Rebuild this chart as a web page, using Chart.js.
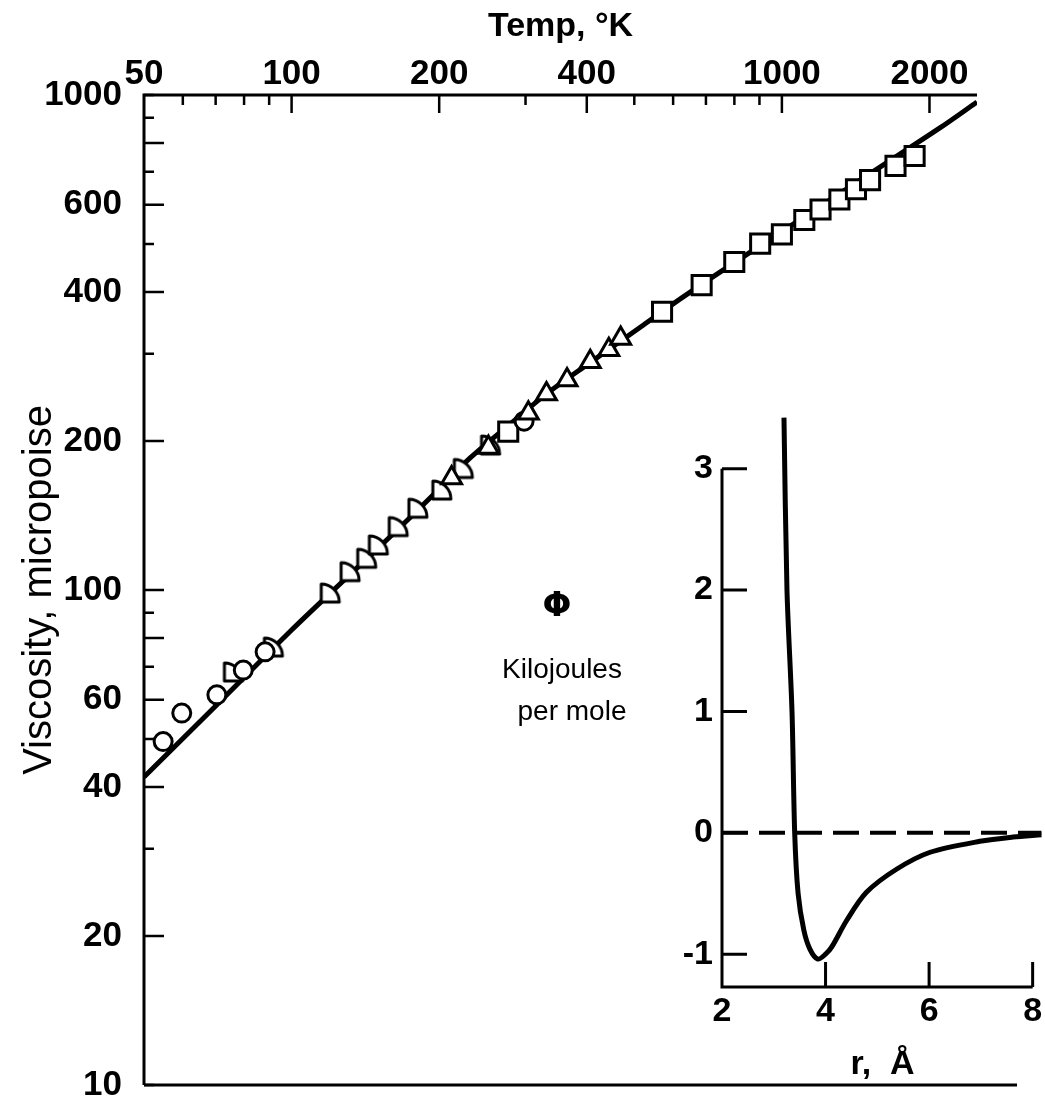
<!DOCTYPE html>
<html><head><meta charset="utf-8">
<script src="https://cdn.jsdelivr.net/npm/chart.js@4.4.1/dist/chart.umd.min.js"></script>
<style>
html,body{margin:0;padding:0;background:#fff;}
#wrap{position:relative;width:1045px;height:1106px;overflow:hidden;}
#wrap canvas{position:absolute;left:0;top:0;}
#inset{pointer-events:none;}
</style></head><body>
<div id="wrap"><canvas id="main" width="1045" height="1106"></canvas><canvas id="inset" width="1045" height="1106"></canvas></div>
<script>
// ---------- main plot data (Temp in K, viscosity in micropoise) ----------
const fitTemp = [50, 70, 100, 120, 160, 200, 231, 280, 331, 400, 522, 592, 736, 1000, 1500, 2100, 2500];
const fitVisc = [41.9, 58.3, 83, 98.6, 129, 160, 184.6, 217, 249, 285, 343, 375, 434, 530, 690, 858, 968];

const circleTemp = [54.7, 59.7, 70.4, 79.7, 88.3, 298];
const circleVisc = [49.4, 56.4, 61.4, 68.9, 75.0, 219.3];

const quarterTemp = [76.1, 91.8, 119.9, 131.6, 142.3, 150.3, 165, 181, 202.5, 224, 254.5];
const quarterVisc = [68.3, 76.7, 98.6, 108.9, 115.9, 123.3, 134.3, 146.3, 159.2, 176, 196.3];

const triangleTemp = [212, 252, 304, 331, 364.6, 406.6, 443.6, 469];
const triangleVisc = [168.3, 194, 227.6, 249, 265.5, 289, 305.6, 322];

const squareTemp = [276.6, 569.6, 686, 799.6, 903, 1000, 1111, 1199, 1310, 1416, 1513, 1705, 1865];
const squareVisc = [208.9, 364.8, 413, 460, 501, 523, 559, 587, 615, 645, 673, 719, 753];

// main axis ticks
const tempTicks = [50, 60, 70, 80, 90, 100, 200, 300, 400, 500, 600, 700, 800, 900, 1000, 2000];
const tempLongTicks = [100, 200, 400, 1000, 2000];
const tempLabels = [50, 100, 200, 400, 1000, 2000];
const viscTicks = [10, 20, 30, 40, 50, 60, 70, 80, 90, 100, 200, 300, 400, 500, 600, 700, 800, 900, 1000];
const viscLongTicks = [20, 40, 60, 80, 100, 200, 400, 600, 800];
const viscLabels = [10, 20, 40, 60, 100, 200, 400, 600, 1000];

// ---------- inset data (r in Angstrom, potential in kJ/mol) ----------
const rValues   = [3.197, 3.255, 3.352, 3.404, 3.47, 3.58, 3.70, 3.85, 4.00, 4.12, 4.41, 4.79, 5.37, 6.02, 6.98, 7.62, 8.17];
const phiValues = [3.42, 2.00, 1.00, 0.00, -0.50, -0.80, -0.96, -1.04, -1.00, -0.94, -0.72, -0.49, -0.30, -0.16, -0.07, -0.035, -0.016];
const zeroLineR = [2, 8.17];
const zeroLinePhi = [0, 0];
const rTicks = [2, 4, 6, 8];
const phiTicks = [-1, 0, 1, 2, 3];

// ---------- styling ----------
const SANS = "'Liberation Sans', Arial, sans-serif";
Chart.defaults.color = '#000';
Chart.defaults.font.family = SANS;
const tickFont = {family: SANS, size: 35, weight: 'bold'};
const insetTickFont = {family: SANS, size: 34, weight: 'bold'};

function pts(xs, ys){ return xs.map((v,i)=>({x:v, y:ys[i]})); }

function quarterMarker(){
  const c = document.createElement('canvas');
  c.width = 26; c.height = 26;
  const g = c.getContext('2d');
  g.lineWidth = 3; g.strokeStyle = '#000'; g.fillStyle = '#fff'; g.lineJoin = 'round';
  const x0 = 4, y0 = 22, R = 18;
  g.beginPath();
  g.moveTo(x0, y0); g.lineTo(x0, y0 - R);
  g.arc(x0, y0, R, -Math.PI/2, 0, false);
  g.closePath(); g.fill(); g.stroke();
  return c;
}

const mainAxes = {
  id: 'mainAxes',
  beforeDraw(chart){
    const {ctx, width, height} = chart;
    ctx.save(); ctx.fillStyle = '#fff'; ctx.fillRect(0, 0, width, height); ctx.restore();
  },
  afterDraw(chart){
    const {ctx, chartArea: a, scales: {x, y}} = chart;
    ctx.save();
    ctx.strokeStyle = '#000'; ctx.lineWidth = 3;
    ctx.beginPath();
    ctx.moveTo(a.left, a.bottom); ctx.lineTo(a.left, a.top); ctx.lineTo(a.right, a.top);
    ctx.moveTo(a.left, a.bottom); ctx.lineTo(a.right + 40, a.bottom);
    ctx.stroke();
    ctx.lineWidth = 2.5;
    ctx.beginPath();
    for (const v of tempTicks) {
      if (v === tempTicks[0]) continue;
      const px = x.getPixelForValue(v);
      const len = tempLongTicks.includes(v) ? 18 : 10;
      ctx.moveTo(px, a.top); ctx.lineTo(px, a.top + len);
    }
    for (const v of viscTicks) {
      const py = y.getPixelForValue(v);
      const len = viscLongTicks.includes(v) ? 20 : 10;
      ctx.moveTo(a.left, py); ctx.lineTo(a.left + len, py);
    }
    ctx.stroke();
    ctx.restore();
  }
};

new Chart(document.getElementById('main'), {
  type: 'scatter',
  data: {
    datasets: [
      {label: 'fit', data: pts(fitTemp, fitVisc), showLine: true, borderColor: '#000', borderWidth: 5,
       pointRadius: 0, tension: 0.3, fill: false, order: 10},
      {label: 'circles', data: pts(circleTemp, circleVisc), pointStyle: 'circle', pointRadius: 9,
       pointBorderWidth: 3, pointBorderColor: '#000', pointBackgroundColor: '#fff', order: 2},
      {label: 'quarters', data: pts(quarterTemp, quarterVisc), pointStyle: quarterMarker(), pointRadius: 11, order: 3},
      {label: 'triangles', data: pts(triangleTemp, triangleVisc), pointStyle: 'triangle', pointRadius: 11.5,
       pointBorderWidth: 3, pointBorderColor: '#000', pointBackgroundColor: '#fff', order: 1},
      {label: 'squares', data: pts(squareTemp, squareVisc), pointStyle: 'rect', pointRadius: 13.5,
       pointBorderWidth: 3, pointBorderColor: '#000', pointBackgroundColor: '#fff', order: 4}
    ]
  },
  options: {
    responsive: false, animation: false, events: [], devicePixelRatio: 1,
    layout: {padding: {left: 0, top: 0, right: 68, bottom: 21}},
    plugins: {legend: {display: false}, tooltip: {enabled: false}},
    scales: {
      x: {
        type: 'logarithmic', position: 'top', min: 50, max: 2500,
        afterBuildTicks: s => { s.ticks = tempTicks.map(v => ({value: v})); },
        afterFit: s => { s.height = 95; s.paddingLeft = 0; s.paddingRight = 0; },
        grid: {display: false, drawTicks: false}, border: {display: false},
        ticks: {autoSkip: false, maxRotation: 0, minRotation: 0, padding: 0, font: tickFont, color: '#000',
                callback: v => tempLabels.includes(v) ? String(v) : ''},
        title: {display: true, text: 'Temp, °K', color: '#000',
                font: {family: SANS, size: 34, weight: 'bold'},
                padding: {top: 6, bottom: 0}}
      },
      y: {
        type: 'logarithmic', position: 'left', min: 10, max: 1000,
        afterBuildTicks: s => { s.ticks = viscTicks.map(v => ({value: v})); },
        afterFit: s => { s.width = 144; s.paddingTop = 0; s.paddingBottom = 0; },
        grid: {display: false, drawTicks: false}, border: {display: false},
        ticks: {autoSkip: false, padding: 22, font: tickFont, color: '#000',
                callback: v => viscLabels.includes(v) ? String(v) : ''},
        title: {display: true, text: 'Viscosity, micropoise', color: '#000',
                font: {family: SANS, size: 40, weight: 'normal'},
                padding: {top: 16, bottom: 0}}
      }
    }
  },
  plugins: [mainAxes]
});

// ---------- inset ----------
const insetAxes = {
  id: 'insetAxes',
  afterDraw(chart){
    const {ctx, chartArea: a, scales: {x, y}} = chart;
    const xEnd = x.getPixelForValue(rTicks[rTicks.length - 1]);
    const yTop = y.getPixelForValue(phiTicks[phiTicks.length - 1]);
    ctx.save();
    ctx.strokeStyle = '#000'; ctx.lineWidth = 3;
    ctx.beginPath();
    ctx.moveTo(a.left, yTop); ctx.lineTo(a.left, a.bottom); ctx.lineTo(xEnd, a.bottom);
    ctx.stroke();
    ctx.beginPath();
    for (const v of phiTicks) {
      const py = y.getPixelForValue(v);
      ctx.moveTo(a.left, py); ctx.lineTo(a.left + 25, py);
    }
    for (const v of rTicks) {
      if (v === rTicks[0]) continue;
      const px = x.getPixelForValue(v);
      ctx.moveTo(px, a.bottom); ctx.lineTo(px, a.bottom - 25);
    }
    ctx.stroke();
    // inset y-axis title (unrotated text block)
    ctx.fillStyle = '#000';
    ctx.textAlign = 'center'; ctx.textBaseline = 'middle';
    ctx.font = "bold 34px 'DejaVu Sans', sans-serif";
    ctx.fillText('Φ', 557, 607);
    ctx.font = "28px " + SANS;
    ctx.fillText('Kilojoules', 562, 670);
    ctx.fillText('per mole', 572, 712);
    ctx.restore();
  }
};

new Chart(document.getElementById('inset'), {
  type: 'scatter',
  data: {
    datasets: [
      {label: 'phi', data: pts(rValues, phiValues), showLine: true, borderColor: '#000', borderWidth: 5,
       pointRadius: 0, tension: 0.3, fill: false},
      {label: 'zero', data: pts(zeroLineR, zeroLinePhi), showLine: true, borderColor: '#000', borderWidth: 4,
       borderDash: [26, 11], pointRadius: 0, fill: false}
    ]
  },
  options: {
    responsive: false, animation: false, events: [], devicePixelRatio: 1,
    layout: {padding: {left: 0, top: 414, right: 2, bottom: 0}},
    plugins: {legend: {display: false}, tooltip: {enabled: false}},
    scales: {
      x: {
        type: 'linear', position: 'bottom', min: 2, max: 8.2,
        afterBuildTicks: s => { s.ticks = rTicks.map(v => ({value: v})); },
        afterFit: s => { s.height = 119; s.paddingLeft = 0; s.paddingRight = 0; },
        grid: {display: false, drawTicks: false}, border: {display: false},
        ticks: {autoSkip: false, maxRotation: 0, padding: 4, font: insetTickFont, color: '#000'},
        title: {display: true, text: 'r,  Å', color: '#000',
                font: {family: SANS, size: 34, weight: 'bold'},
                padding: {top: 0, bottom: 21}}
      },
      y: {
        type: 'linear', position: 'left', min: -1.27, max: 3.45,
        afterBuildTicks: s => { s.ticks = phiTicks.map(v => ({value: v})); },
        afterFit: s => { s.width = 722; s.paddingTop = 0; s.paddingBottom = 0; },
        grid: {display: false, drawTicks: false}, border: {display: false},
        ticks: {autoSkip: false, padding: 9, font: insetTickFont, color: '#000'}
      }
    }
  },
  plugins: [insetAxes]
});
</script>
</body></html>
